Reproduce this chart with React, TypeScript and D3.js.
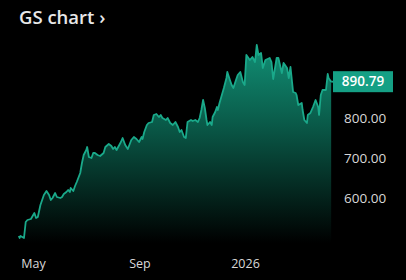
import React from "react";
import * as d3 from "d3";

const dates: string[] = [
  "2025-04-14","2025-04-15","2025-04-16","2025-04-18","2025-04-20","2025-04-22","2025-04-24","2025-04-28","2025-04-30",
  "2025-05-02","2025-05-04","2025-05-06","2025-05-07","2025-05-09","2025-05-13","2025-05-16","2025-05-19","2025-05-21",
  "2025-05-23","2025-05-26","2025-05-28","2025-06-01","2025-06-03","2025-06-05","2025-06-08","2025-06-10","2025-06-12",
  "2025-06-13","2025-06-16","2025-06-18","2025-06-20","2025-06-24","2025-06-26","2025-06-28","2025-07-01","2025-07-02",
  "2025-07-04","2025-07-07","2025-07-09","2025-07-11","2025-07-14","2025-07-17","2025-07-21","2025-07-23","2025-07-27",
  "2025-07-30","2025-08-01","2025-08-03","2025-08-05","2025-08-10","2025-08-12","2025-08-15","2025-08-18","2025-08-22",
  "2025-08-25","2025-08-28","2025-08-31","2025-09-03","2025-09-04","2025-09-06","2025-09-09","2025-09-11","2025-09-15",
  "2025-09-17","2025-09-20","2025-09-23","2025-09-25","2025-09-27","2025-10-01","2025-10-03","2025-10-06","2025-10-09",
  "2025-10-12","2025-10-15","2025-10-17","2025-10-19","2025-10-22","2025-10-24","2025-10-25","2025-10-26","2025-10-30",
  "2025-11-01","2025-11-04","2025-11-07","2025-11-09","2025-11-11","2025-11-13","2025-11-15","2025-11-17","2025-11-18",
  "2025-11-21","2025-11-23","2025-11-24","2025-11-27","2025-11-29","2025-11-30","2025-12-02","2025-12-04","2025-12-07",
  "2025-12-10","2025-12-11","2025-12-14","2025-12-16","2025-12-18","2025-12-21","2025-12-23","2025-12-26","2025-12-29",
  "2025-12-31","2026-01-02","2026-01-06","2026-01-09","2026-01-12","2026-01-14","2026-01-16","2026-01-19","2026-01-21",
  "2026-01-24","2026-01-29","2026-01-31","2026-02-02","2026-02-06","2026-02-08","2026-02-12","2026-02-14","2026-02-18",
  "2026-02-20","2026-02-22","2026-02-25","2026-02-28","2026-03-01","2026-03-03","2026-03-07","2026-03-08","2026-03-10",
  "2026-03-13","2026-03-14","2026-03-17","2026-03-20","2026-03-23","2026-03-26","2026-03-27","2026-03-29","2026-03-31",
  "2026-04-04","2026-04-06","2026-04-07","2026-04-10",
];

const prices: number[] = [
  505, 500, 505, 502.5, 500, 540, 545, 547.5, 555,
  562.5, 550, 552.5, 562.5, 582.5, 607.5, 617.5, 607.5, 595,
  600, 612.5, 602.5, 600, 602.5, 610, 615, 620, 615,
  625, 617.5, 630, 640, 662.5, 687.5, 707.5, 720, 727.5,
  702.5, 700, 712.5, 712.5, 707.5, 705, 712.5, 727.5, 735,
  730, 722.5, 727.5, 720, 740, 750, 732.5, 722.5, 745,
  752.5, 747.5, 740, 752.5, 747.5, 765, 782.5, 787.5, 790,
  807.5, 810, 802.5, 807.5, 800, 795, 800, 787.5, 782.5,
  790, 777.5, 765, 770, 752.5, 750, 770, 790, 795,
  792.5, 795, 790, 800, 820, 845, 825, 795, 782.5,
  790, 782.5, 802.5, 815, 827.5, 820, 837.5, 852.5, 875,
  900, 915, 895, 882.5, 875, 895, 907.5, 915, 890,
  882.5, 957.5, 945, 952.5, 940, 982.5, 957.5, 962.5, 925,
  945, 950, 940, 897.5, 950, 950, 912.5, 937.5, 925,
  900, 927.5, 865, 862.5, 857.5, 832.5, 837.5, 820, 795,
  787.5, 807.5, 812.5, 827.5, 845, 827.5, 807.5, 857.5, 870,
  870, 910, 900, 890.79,
];

const yTicks: number[] = [600, 700, 800];
const xTicks: { date: string; label: string }[] = [
  { date: "2025-05-01", label: "May" },
  { date: "2025-09-01", label: "Sep" },
  { date: "2026-01-01", label: "2026" },
];
const lastLabel = "890.79";

export default function App() {
  const W = 406;
  const H = 280;
  const parse = d3.timeParse("%Y-%m-%d");
  const data = dates.map((d, i) => ({ date: parse(d) as Date, value: prices[i] }));

  const x = d3
    .scaleTime()
    .domain([parse("2025-05-01") as Date, parse("2026-01-01") as Date])
    .range([33.5, 245.5]);
  const y = d3.scaleLinear().domain([487.5, 1000]).range([243, 38]);

  const line = d3
    .line<{ date: Date; value: number }>()
    .x((d) => x(d.date))
    .y((d) => y(d.value));
  const area = d3
    .area<{ date: Date; value: number }>()
    .x((d) => x(d.date))
    .y0(y(487.5))
    .y1((d) => y(d.value));

  const last = data[data.length - 1];
  const lx = x(last.date);
  const ly = y(last.value);
  const font = "'Open Sans', 'Noto Sans', sans-serif";

  return (
    <svg
      width={W}
      height={H}
      style={{ position: "absolute", left: 0, top: 0, background: "#000" }}
      fontFamily={font}
    >
      <defs>
        <linearGradient id="fillGrad" x1="0" y1={y(1000)} x2="0" y2={y(487.5)} gradientUnits="userSpaceOnUse">
          <stop offset="0%" stopColor="#129479" />
          <stop offset="40%" stopColor="#0a5d4b" />
          <stop offset="75%" stopColor="#04271f" />
          <stop offset="100%" stopColor="#000000" />
        </linearGradient>
      </defs>
      <rect x={0} y={0} width={W} height={H} fill="#000" />
      <text x={19} y={24} fill="#e8e8e8" fontSize={18.5} fontWeight={600}>
        GS chart ›
      </text>
      <path d={area(data) || ""} fill="url(#fillGrad)" />
      <path d={line(data) || ""} fill="none" stroke="#1aa98a" strokeWidth={1.8} strokeLinejoin="round" />
      <line x1={lx} x2={334} y1={ly} y2={ly} stroke="#1aa98a" strokeWidth={1.8} />
      <rect x={333} y={ly - 10.5} width={60} height={21} fill="#15a085" />
      <text x={363} y={ly + 4.5} fill="#ffffff" fontSize={13.5} fontWeight={600} textAnchor="middle">
        {lastLabel}
      </text>
      {yTicks.map((t) => (
        <text key={t} x={344} y={y(t) + 5} fill="#d8d8d8" fontSize={13.5}>
          {d3.format(".2f")(t)}
        </text>
      ))}
      {xTicks.map((t) => (
        <text
          key={t.label}
          x={x(parse(t.date) as Date)}
          y={268}
          fill="#d8d8d8"
          fontSize={12.5}
          textAnchor="middle"
        >
          {t.label}
        </text>
      ))}
    </svg>
  );
}
